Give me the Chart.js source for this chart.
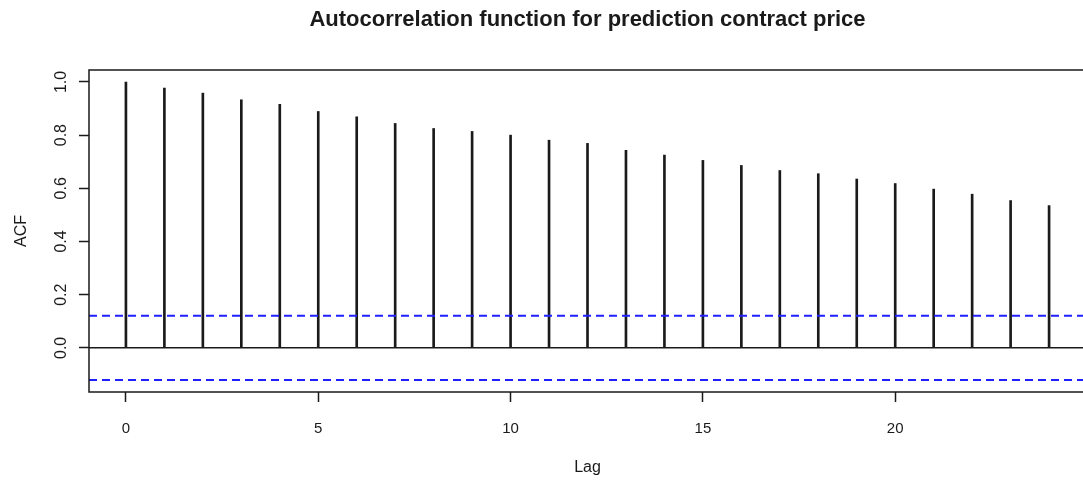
<!DOCTYPE html>
<html>
<head>
<meta charset="utf-8">
<title>ACF - prediction contract price</title>
<script src="https://cdn.jsdelivr.net/npm/chart.js@4.4.1/dist/chart.umd.min.js"></script>
<style>
    html, body { margin: 0; padding: 0; background: #fff; overflow: hidden; }
    #wrap { width: 1090px; height: 484px; }
</style>
</head>
<body>
<div id="wrap"><canvas id="acf-chart" width="1090" height="484"></canvas></div>
<script>
// Sample autocorrelation of the contract price, lags 0..24
const lags = [0, 1, 2, 3, 4, 5, 6, 7, 8, 9, 10, 11, 12, 13, 14, 15, 16, 17, 18, 19, 20, 21, 22, 23, 24];
const acfValues = [1.000, 0.977, 0.958, 0.933, 0.916, 0.889, 0.869, 0.844, 0.825, 0.814, 0.800, 0.781,
                   0.769, 0.743, 0.725, 0.705, 0.686, 0.667, 0.655, 0.635, 0.618, 0.597, 0.578, 0.554, 0.535];
// 95% confidence bound (+/-)
const ciBound = 0.121;

const xTicks = [0, 5, 10, 15, 20];
const yTicks = [0.0, 0.2, 0.4, 0.6, 0.8, 1.0];

// R-style axis limits: data range padded by 4% on each side
const xMin = -0.96, xMax = 24.96;
const yMin = -0.166, yMax = 1.045;

const FONT = '"Liberation Sans", Arial, sans-serif';
const INK = '#1a1a1a';
const CI_BLUE = '#2020ff';

// Box, rotated y labels and the titles
const acfDecor = {
    id: 'acfDecor',
    afterDraw(chart) {
        const ctx = chart.ctx;
        const area = chart.chartArea;
        const yScale = chart.scales.y;
        ctx.save();
        ctx.strokeStyle = INK;
        ctx.lineWidth = 1.5;
        ctx.strokeRect(area.left, area.top, area.right - area.left, area.bottom - area.top);

        ctx.fillStyle = INK;
        ctx.textAlign = 'center';
        ctx.textBaseline = 'middle';
        ctx.font = '16px ' + FONT;
        yTicks.forEach(v => {
            ctx.save();
            ctx.translate(62, yScale.getPixelForValue(v));
            ctx.rotate(-Math.PI / 2);
            ctx.fillText(v.toFixed(1), 0, 0);
            ctx.restore();
        });

        const midX = (area.left + area.right) / 2;
        ctx.font = 'bold 22px ' + FONT;
        ctx.fillText('Autocorrelation function for prediction contract price', midX, 20);

        ctx.font = '16px ' + FONT;
        ctx.fillText('Lag', midX, 468);
        ctx.save();
        ctx.translate(22, (area.top + area.bottom) / 2);
        ctx.rotate(-Math.PI / 2);
        ctx.fillText('ACF', 0, 0);
        ctx.restore();
        ctx.restore();
    }
};

const ctx = document.getElementById('acf-chart').getContext('2d');
new Chart(ctx, {
    data: {
        datasets: [
            {
                type: 'bar',
                data: lags.map((lag, i) => ({ x: lag, y: acfValues[i] })),
                backgroundColor: INK,
                barThickness: 2,
                order: 3
            },
            {
                type: 'line',
                data: [{ x: xMin, y: 0 }, { x: xMax, y: 0 }],
                borderColor: INK,
                borderWidth: 1.5,
                pointRadius: 0,
                order: 2
            },
            {
                type: 'line',
                data: [{ x: xMin, y: ciBound }, { x: xMax, y: ciBound }],
                borderColor: CI_BLUE,
                borderWidth: 2,
                borderDash: [8, 5],
                pointRadius: 0,
                order: 1
            },
            {
                type: 'line',
                data: [{ x: xMin, y: -ciBound }, { x: xMax, y: -ciBound }],
                borderColor: CI_BLUE,
                borderWidth: 2,
                borderDash: [8, 5],
                pointRadius: 0,
                order: 1
            }
        ]
    },
    options: {
        responsive: false,
        animation: false,
        layout: { padding: { top: 70, right: 4, left: 0, bottom: 0 } },
        plugins: {
            legend: { display: false },
            tooltip: { enabled: false },
            title: { display: false }
        },
        scales: {
            x: {
                type: 'linear',
                min: xMin,
                max: xMax,
                offset: false,
                afterBuildTicks: axis => { axis.ticks = xTicks.map(v => ({ value: v })); },
                afterFit: axis => { axis.height = 92; },
                border: { display: false },
                grid: {
                    offset: false,
                    drawOnChartArea: false,
                    drawTicks: true,
                    tickLength: 10,
                    tickColor: INK,
                    tickWidth: 1.5
                },
                ticks: {
                    color: INK,
                    font: { family: FONT, size: 15 },
                    padding: 18,
                    maxRotation: 0,
                    autoSkip: false
                }
            },
            y: {
                type: 'linear',
                min: yMin,
                max: yMax,
                afterBuildTicks: axis => { axis.ticks = yTicks.map(v => ({ value: v })); },
                afterFit: axis => { axis.width = 89; },
                border: { display: false },
                grid: {
                    drawOnChartArea: false,
                    drawTicks: true,
                    tickLength: 10,
                    tickColor: INK,
                    tickWidth: 1.5
                },
                ticks: { display: false }
            }
        }
    },
    plugins: [acfDecor]
});
</script>
</body>
</html>
